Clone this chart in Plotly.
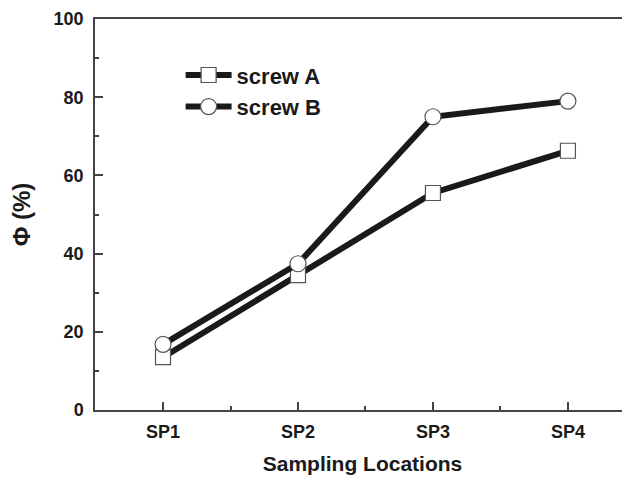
import plotly.graph_objects as go

categories = ["SP1", "SP2", "SP3", "SP4"]
screw_a = [13.5, 34.5, 55.5, 66.3]
screw_b = [16.8, 37.4, 75.0, 79.0]
x_idx = list(range(len(categories)))

fig = go.Figure()
for name, vals, sym, sz in [("screw A", screw_a, "square", 15), ("screw B", screw_b, "circle", 16)]:
    fig.add_trace(go.Scatter(
        x=x_idx, y=vals, name=name, mode="lines+markers",
        line=dict(color="#1a1a1a", width=6),
        marker=dict(symbol=sym, size=sz, color="white",
                    line=dict(color="#555555", width=1.2)),
    ))

font_family = "Liberation Sans, Arial, sans-serif"
# the page body adds an 8px offset; margins compensate for it
fig.update_layout(
    width=630, height=480,
    margin=dict(l=87, r=8, t=11, b=78),
    plot_bgcolor="white", paper_bgcolor="white",
    font=dict(family=font_family, color="#1a1a1a"),
    showlegend=True,
    legend=dict(x=0.16, y=0.91, xanchor="left", yanchor="top",
                bgcolor="rgba(0,0,0,0)", font=dict(size=22, family=font_family, weight="bold"),
                tracegroupgap=0, itemwidth=46),
    xaxis=dict(
        range=[-0.504, 3.46], tickmode="array", tickvals=x_idx, ticktext=categories,
        ticks="inside", ticklen=8, tickwidth=1.5, tickcolor="#444",
        showline=True, linecolor="#444", linewidth=1.5, mirror=True,
        showgrid=False, zeroline=False, automargin=False,
        tickfont=dict(size=18, weight="bold"), ticklabelstandoff=5,
        minor=dict(tickvals=[0.5, 1.5, 2.5], ticks="inside", ticklen=4, tickcolor="#444", showgrid=False),
        title=dict(text="Sampling Locations", font=dict(size=21, weight="bold"), standoff=15),
    ),
    yaxis=dict(
        range=[0, 100], tickvals=[0, 20, 40, 60, 80, 100],
        ticks="inside", ticklen=8, tickwidth=1.5, tickcolor="#444",
        showline=True, linecolor="#444", linewidth=1.5, mirror=False,
        showgrid=False, zeroline=False, automargin=False,
        tickfont=dict(size=18, weight="bold"), ticklabelstandoff=6,
        minor=dict(dtick=10, ticks="inside", ticklen=4, tickcolor="#444", showgrid=False),
        title=dict(text="Φ (%)", font=dict(size=24, weight="bold"), standoff=18),
    ),
)

fig.write_html("out.html")
